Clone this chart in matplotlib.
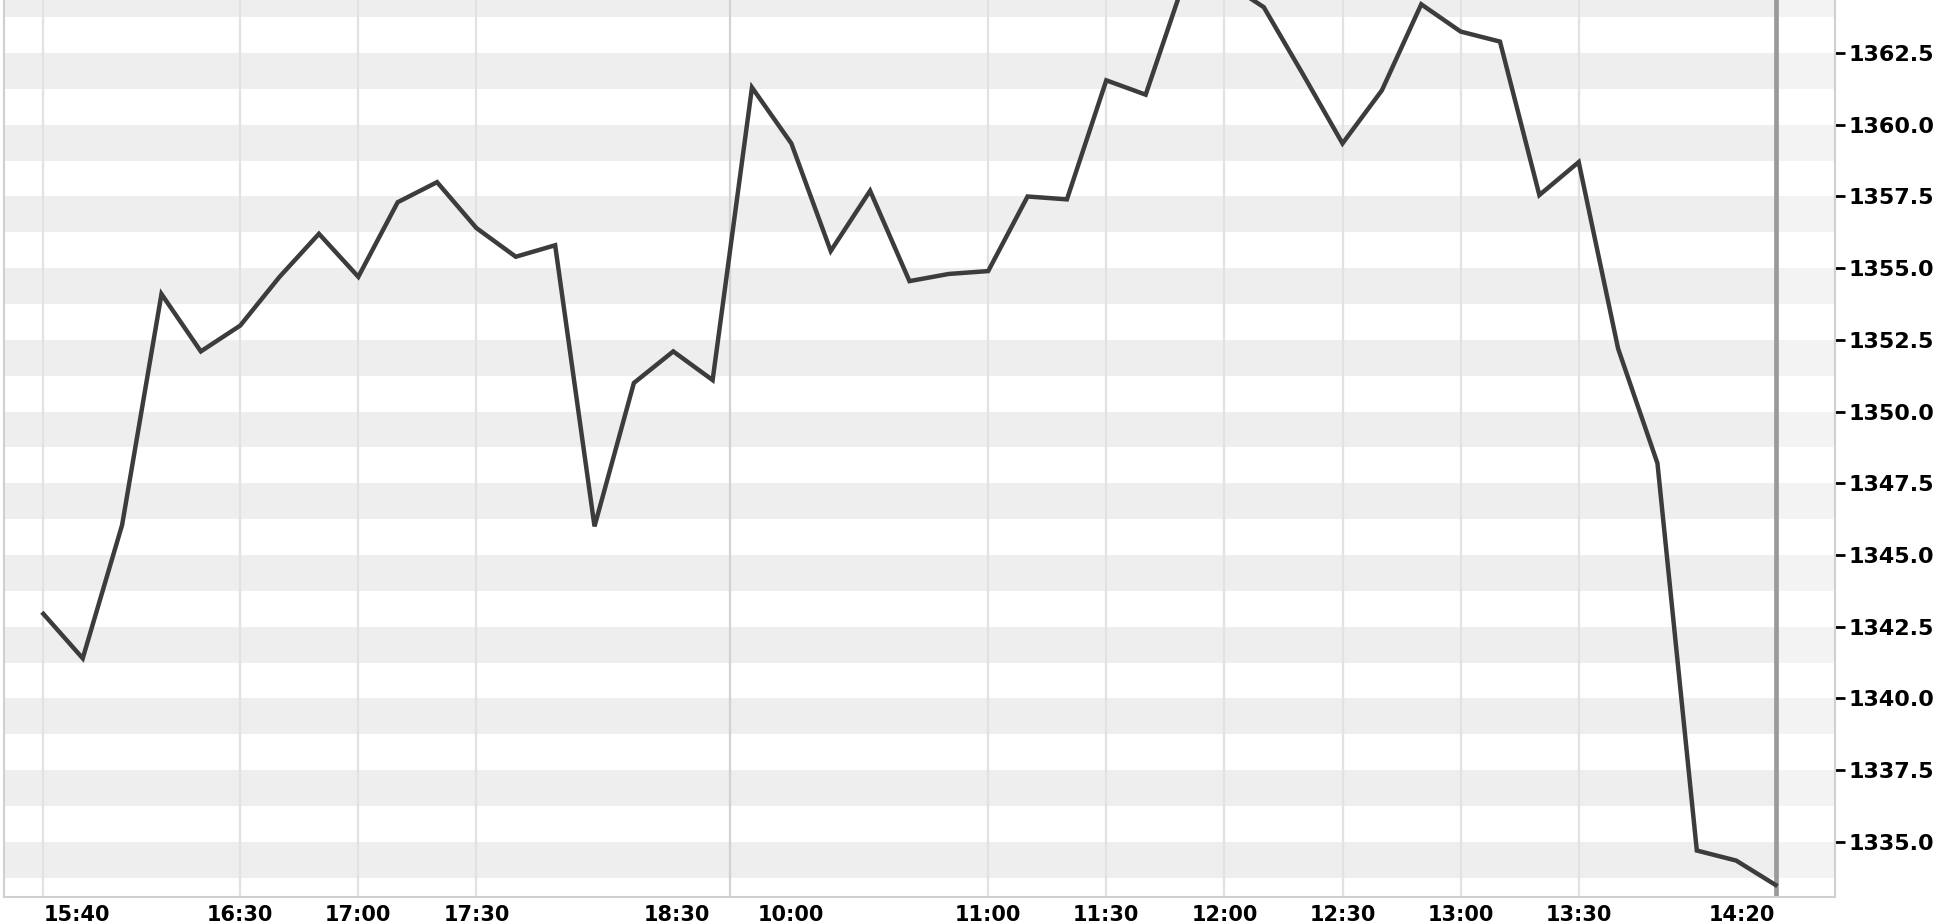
import matplotlib
matplotlib.use("Agg")
import matplotlib.pyplot as plt
import numpy as np

# ---- data ----
prices = [1342.95, 1341.4, 1346.05, 1354.1, 1352.1, 1353.0, 1354.7, 1356.2, 1354.7, 1357.3,
          1358.0, 1356.4, 1355.4, 1355.8, 1346.0, 1351.0, 1352.1, 1351.1, 1361.3, 1359.35,
          1355.6, 1357.7, 1354.55, 1354.8, 1354.9, 1357.5, 1357.4, 1361.55, 1361.05, 1365.1,
          1365.0, 1364.1, 1361.75, 1359.35, 1361.2, 1364.2, 1363.25, 1362.9, 1357.55, 1358.7,
          1352.2, 1348.2, 1334.7, 1334.35, 1333.5]
time_labels = ["15:40", "16:30", "17:00", "17:30", "18:30", "10:00", "11:00",
               "11:30", "12:00", "12:30", "13:00", "13:30", "14:20"]
label_pos = [0, 5, 8, 11, 16.1, 19, 24, 27, 30, 33, 36, 39, 44]
grid_pos = [0, 5, 8, 11, 17.45, 24, 27, 30, 33, 36, 39]
session_break = 17.45
y_ticks = [1335.0, 1337.5, 1340.0, 1342.5, 1345.0, 1347.5, 1350.0,
           1352.5, 1355.0, 1357.5, 1360.0, 1362.5]
band_tops = [1335.0 + 2.5 * k for k in range(13)]

W, H = 1944, 924
fig = plt.figure(figsize=(W / 100, H / 100), dpi=100)
fig.patch.set_facecolor("white")

left_px, right_px, bottom_px = 4, 1835, 897
ax = fig.add_axes([left_px / W, (H - bottom_px) / H,
                   (right_px - left_px) / W, bottom_px / H])

x = np.arange(len(prices))
ax.set_xlim(-1.0, 45.51)
ax.set_ylim(1333.08, 1364.35)

# alternating bands
for v in band_tops:
    ax.axhspan(v - 1.25, v, color="#eeeeee", lw=0, zorder=0)
# lighter strip beyond the last point
ax.axvspan(44, 45.51, color="white", alpha=0.35, lw=0, zorder=0.5)

# vertical gridlines
for g in grid_pos:
    c = "#d2d2d2" if g == session_break else "#e2e2e2"
    ax.axvline(g, color=c, lw=1.6, zorder=1)

# right edge marker of the data area
ax.axvline(44, color="#9a9a9a", lw=3.4, zorder=2)

ax.plot(x, prices, color="#3c3c3c", lw=3.2, zorder=3, solid_joinstyle="miter")

# spines
ax.spines["top"].set_visible(False)
for s in ["left", "right", "bottom"]:
    ax.spines[s].set_color("#d0d0d0")
    ax.spines[s].set_linewidth(1.5)

# y axis on right
ax.yaxis.tick_right()
ax.set_yticks(y_ticks)
ax.set_yticklabels([f"{v:.1f}" for v in y_ticks], fontsize=16, fontweight="bold")
ax.tick_params(axis="y", direction="out", length=7, width=2, color="black", pad=3)

# x axis labels
ax.set_xticks(label_pos)
ax.set_xticklabels(time_labels, fontsize=15, fontweight="bold")
ax.tick_params(axis="x", length=0, pad=6)
xt = ax.get_xticklabels()
xt[0].set_ha("left")
xt[-1].set_ha("right")

fig.savefig("out.png", dpi=100, facecolor="white")
